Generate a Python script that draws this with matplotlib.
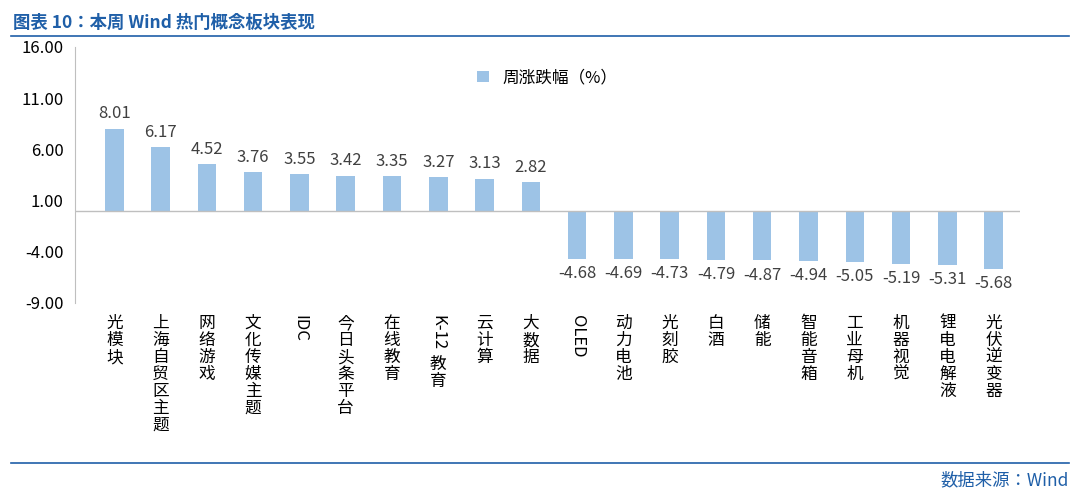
import matplotlib.pyplot as plt
from matplotlib.lines import Line2D

plt.rcParams['font.family'] = 'sans-serif'
plt.rcParams['font.sans-serif'] = ['Noto Sans CJK SC', 'Noto Sans CJK JP', 'DejaVu Sans']

categories = ['光模块', '上海自贸区主题', '网络游戏', '文化传媒主题', 'IDC', '今日头条平台',
              '在线教育', 'K-12 教育', '云计算', '大数据', 'OLED', '动力电池', '光刻胶',
              '白酒', '储能', '智能音箱', '工业母机', '机器视觉', '锂电电解液', '光伏逆变器']
values = [8.01, 6.17, 4.52, 3.76, 3.55, 3.42, 3.35, 3.27, 3.13, 2.82,
          -4.68, -4.69, -4.73, -4.79, -4.87, -4.94, -5.05, -5.19, -5.31, -5.68]
yticks = [16, 11, 6, 1, -4, -9]

fig = plt.figure(figsize=(10.8, 4.98), dpi=100)
ax = fig.add_axes([0.069, 0.392, 0.875, 0.514])
x = list(range(len(categories)))
ax.bar(x, values, width=0.4, color='#9DC3E6', label='周涨跌幅（%）', zorder=2)
ax.axhline(0, color='#BFBFBF', lw=1, zorder=3)
ax.set_ylim(-9, 16)
ax.set_xlim(-0.86, 19.56)
ax.set_yticks(yticks)
ax.set_yticklabels([f'{v:.2f}' for v in yticks], fontsize=12)
ax.set_xticks([])
for s in ['top', 'right', 'bottom']:
    ax.spines[s].set_visible(False)
ax.spines['left'].set_color('#BFBFBF')
ax.tick_params(axis='y', length=0, pad=8)

for xi, v in zip(x, values):
    off = 0.6 if v > 0 else -0.6
    ax.text(xi, v + off, f'{v:.2f}', ha='center', va='bottom' if v > 0 else 'top',
            fontsize=12, color='#404040')

for xi, lab in zip(x, categories):
    if lab.isascii():
        ax.text(xi, -10.2, lab, rotation=-90, ha='center', va='top', fontsize=12)
    elif ' ' in lab:
        head, tail = lab.split(' ')
        t = ax.text(xi, -10.2, head, rotation=-90, ha='center', va='top', fontsize=12)
        ax.text(xi, -14.2, '\n'.join(tail), ha='center', va='top',
                fontsize=12, linespacing=1.0)
    else:
        ax.text(xi, -10.2, '\n'.join(lab), ha='center', va='top',
                fontsize=12, linespacing=1.0)

ax.legend(loc='upper center', bbox_to_anchor=(0.5, 0.97), frameon=False, fontsize=12,
          handlelength=0.7, handleheight=0.7)

fig.text(0.012, 0.955, '图表 10：本周 Wind 热门概念板块表现', color='#1F5FA8', fontsize=12.5,
         va='center', weight='bold')
fig.add_artist(Line2D([0.01, 0.99], [0.928, 0.928], color='#1F5FA8', lw=1.2))
fig.add_artist(Line2D([0.01, 0.99], [0.07, 0.07], color='#1F5FA8', lw=1.2))
fig.text(0.99, 0.035, '数据来源：Wind', color='#1F5FA8', fontsize=12.5, ha='right', va='center')

fig.savefig('out.png')
